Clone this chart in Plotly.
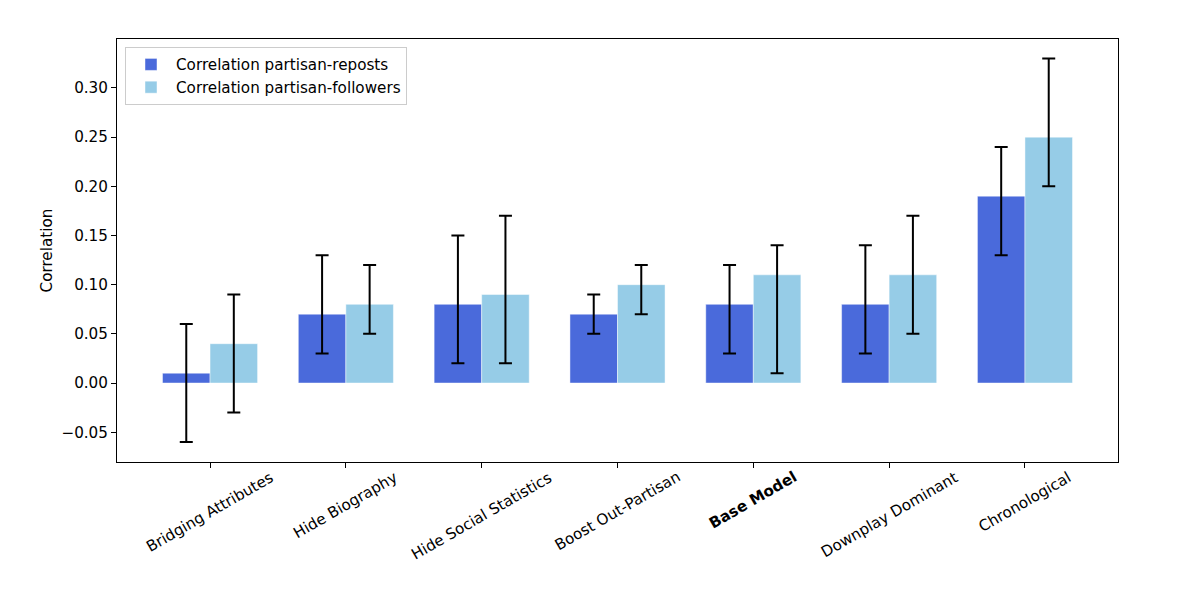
import plotly.graph_objects as go

categories = ["Bridging Attributes", "Hide Biography", "Hide Social Statistics",
              "Boost Out-Partisan", "Base Model", "Downplay Dominant", "Chronological"]
tick_labels = ["Bridging Attributes", "Hide Biography", "Hide Social Statistics",
               "Boost Out-Partisan", "<b>Base Model</b>", "Downplay Dominant", "Chronological"]

reposts = [0.01, 0.07, 0.08, 0.07, 0.08, 0.08, 0.19]
reposts_low = [-0.06, 0.03, 0.02, 0.05, 0.03, 0.03, 0.13]
reposts_high = [0.06, 0.13, 0.15, 0.09, 0.12, 0.14, 0.24]

followers = [0.04, 0.08, 0.09, 0.10, 0.11, 0.11, 0.25]
followers_low = [-0.03, 0.05, 0.02, 0.07, 0.01, 0.05, 0.20]
followers_high = [0.09, 0.12, 0.17, 0.12, 0.14, 0.17, 0.33]

y_ticks = [-0.05, 0.00, 0.05, 0.10, 0.15, 0.20, 0.25, 0.30]

FONT = "DejaVu Sans"
FS = 15.2

x_idx = list(range(len(categories)))

def err(vals, lo, hi):
    return dict(type="data", symmetric=False,
                array=[h - v for v, h in zip(vals, hi)],
                arrayminus=[v - l for v, l in zip(vals, lo)],
                color="black", thickness=2, width=6.5)

fig = go.Figure()
fig.add_trace(go.Bar(
    x=x_idx, y=reposts, name="Correlation partisan-reposts",
    marker=dict(color="#4A6ADB", line=dict(color="rgba(255,255,255,0.45)", width=1)),
    error_y=err(reposts, reposts_low, reposts_high),
))
fig.add_trace(go.Bar(
    x=x_idx, y=followers, name="Correlation partisan-followers",
    marker=dict(color="#96CCE7", line=dict(color="rgba(255,255,255,0.45)", width=1)),
    error_y=err(followers, followers_low, followers_high),
))

annotations = []
for i, lab in zip(x_idx, tick_labels):
    annotations.append(dict(
        x=i, y=-0.008, xref="x", yref="paper", text=lab, showarrow=False,
        textangle=-30, xanchor="center", yanchor="top",
        font=dict(family=FONT, size=FS, color="black"),
    ))
annotations.append(dict(
    x=-0.07, y=0.5, xref="paper", yref="paper", text="Correlation", showarrow=False,
    textangle=-90, xanchor="center", yanchor="middle",
    font=dict(family=FONT, size=FS, color="black"),
))

fig.update_layout(
    width=1180, height=590,
    margin=dict(l=109, r=70, t=31, b=136),
    paper_bgcolor="white", plot_bgcolor="white",
    font=dict(family=FONT, size=FS, color="black"),
    barmode="group", bargap=0.3, bargroupgap=0,
    showlegend=True,
    legend=dict(x=0.008, y=0.981, xanchor="left", yanchor="top",
                bgcolor="rgba(255,255,255,0.8)", bordercolor="#cccccc", borderwidth=1,
                font=dict(family=FONT, size=FS, color="black"),
                itemwidth=40, tracegroupgap=0),
    annotations=annotations,
    xaxis=dict(range=[-0.685, 6.685], tickvals=x_idx, ticktext=[""] * len(x_idx),
               ticks="outside", ticklen=5, tickwidth=1, tickcolor="black",
               showline=True, linecolor="black", linewidth=1, mirror=True,
               showgrid=False, zeroline=False),
    yaxis=dict(range=[-0.0803, 0.3498], tickvals=y_ticks, tickformat=".2f",
               ticks="outside", ticklen=5, tickwidth=1, tickcolor="black",
               showline=True, linecolor="black", linewidth=1, mirror=True,
               showgrid=False, zeroline=False,
               tickfont=dict(family=FONT, size=FS, color="black")),
)

fig.write_html("out.html")
